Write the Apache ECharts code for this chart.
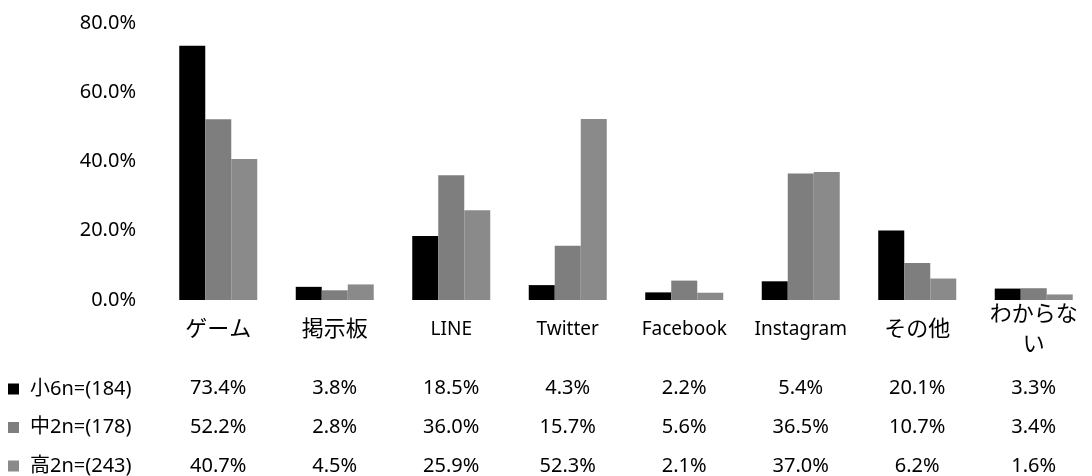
<!DOCTYPE html>
<html>
<head>
<meta charset="utf-8">
<script src="https://cdn.jsdelivr.net/npm/echarts@6/dist/echarts.min.js"></script>
<style>
  html, body { margin: 0; padding: 0; background: #fff; }
  #chart { width: 1092px; height: 476px; }
</style>
</head>
<body>
<div id="chart"></div>
<script>
// ---- data ----
const categories = ['ゲーム', '掲示板', 'LINE', 'Twitter', 'Facebook', 'Instagram', 'その他', 'わからない'];
const seriesNames = ['小6n=(184)', '中2n=(178)', '高2n=(243)'];
const grade6 = [73.4, 3.8, 18.5, 4.3, 2.2, 5.4, 20.1, 3.3];
const middle2 = [52.2, 2.8, 36.0, 15.7, 5.6, 36.5, 10.7, 3.4];
const high2 = [40.7, 4.5, 25.9, 52.3, 2.1, 37.0, 6.2, 1.6];
const yTicks = [0, 20, 40, 60, 80];

const seriesData = [grade6, middle2, high2];
const colors = ['#000000', '#7e7e7e', '#8a8a8a'];
const FONT = "'Noto Sans', 'Noto Sans CJK JP', sans-serif";

const isCJK = s => /[\u3000-\u9fff]/.test(s);
function catFormatter(v) {
  if (isCJK(v)) {
    if (v.length > 4) return '{jp|' + v.slice(0, 4) + '}\n{jp|' + v.slice(4) + '}';
    return '{jp|' + v + '}';
  }
  return '{en|' + v + '}';
}

const tableOffsets = [88, 127, 166];
const tableAxes = seriesData.map((arr, k) => ({
  type: 'category',
  data: categories,
  gridIndex: 0,
  position: 'bottom',
  offset: tableOffsets[k],
  axisLine: { show: false },
  axisTick: { show: false },
  axisLabel: {
    interval: 0,
    margin: 0,
    verticalAlign: 'middle',
    fontFamily: FONT,
    fontSize: 20,
    color: '#000',
    formatter: (val, idx) => arr[idx].toFixed(1) + '%'
  }
}));

const chart = echarts.init(document.getElementById('chart'), null, { renderer: 'canvas' });
chart.setOption({
  animation: false,
  backgroundColor: '#ffffff',
  grid: { left: 160, width: 946, top: 23, height: 279, containLabel: false },
  legend: {
    orient: 'vertical',
    left: 8,
    top: 379,
    padding: 0,
    itemWidth: 11,
    itemHeight: 11,
    itemGap: 18.5,
    icon: 'rect',
    selectedMode: false,
    textStyle: { fontFamily: FONT, fontSize: 20, lineHeight: 20, color: '#000', padding: [0, 0, 0, 6] },
    data: seriesNames
  },
  xAxis: [{
    type: 'category',
    data: categories,
    axisLine: { show: false },
    axisTick: { show: false },
    axisLabel: {
      interval: 0,
      margin: 30,
      verticalAlign: 'middle',
      color: '#000',
      formatter: catFormatter,
      rich: {
        jp: { fontFamily: FONT, fontSize: 22, lineHeight: 30, color: '#000' },
        en: { fontFamily: FONT, fontSize: 19, lineHeight: 30, color: '#000' }
      }
    }
  }].concat(tableAxes),
  yAxis: {
    type: 'value',
    min: yTicks[0],
    max: yTicks[yTicks.length - 1],
    interval: yTicks[1] - yTicks[0],
    axisLine: { show: false },
    axisTick: { show: false },
    splitLine: { show: false },
    axisLabel: {
      margin: 24,
      fontFamily: FONT,
      fontSize: 20,
      color: '#000',
      formatter: v => v.toFixed(1) + '%'
    }
  },
  series: seriesData.map((arr, k) => ({
    name: seriesNames[k],
    type: 'bar',
    data: arr,
    barWidth: 26,
    barGap: '0%',
    itemStyle: { color: colors[k] }
  }))
});
</script>
</body>
</html>
